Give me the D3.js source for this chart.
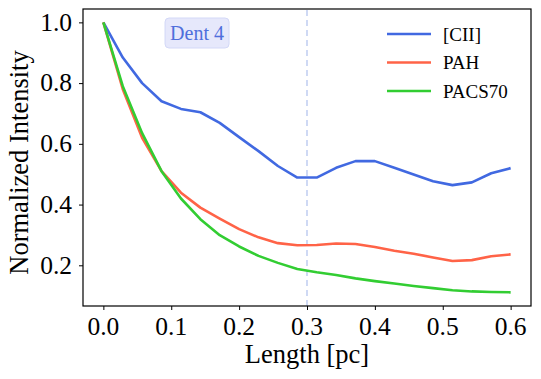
<!DOCTYPE html>
<html>
<head>
<meta charset="utf-8">
<script src="https://cdn.jsdelivr.net/npm/d3@7"></script>
<style>
  body { margin: 0; background: #fff; }
</style>
</head>
<body>
<div id="chart"></div>
<script>
// values
var lengths = [0, 0.0286, 0.0571, 0.0857, 0.1143, 0.1429, 0.1714, 0.2, 0.2286, 0.2571, 0.2857,
               0.3143, 0.3429, 0.3714, 0.4, 0.4286, 0.4571, 0.4857, 0.5143, 0.5429, 0.5714, 0.6];
var cii    = [1.0, 0.884, 0.80, 0.74, 0.715, 0.704, 0.669, 0.622, 0.576, 0.527, 0.489,
              0.489, 0.521, 0.543, 0.543, 0.521, 0.499, 0.477, 0.464, 0.473, 0.503, 0.52];
var pah    = [1.0, 0.78, 0.62, 0.51, 0.439, 0.39, 0.354, 0.319, 0.292, 0.273, 0.266,
              0.267, 0.272, 0.27, 0.26, 0.248, 0.238, 0.226, 0.214, 0.217, 0.23, 0.236];
var pacs70 = [1.0, 0.79, 0.635, 0.51, 0.42, 0.352, 0.299, 0.262, 0.231, 0.208, 0.188,
              0.177, 0.168, 0.157, 0.148, 0.140, 0.132, 0.125, 0.118, 0.114, 0.112, 0.111];
var seriesNames = ["[CII]", "PAH", "PACS70"];
var xTicks = [0, 0.1, 0.2, 0.3, 0.4, 0.5, 0.6];
var yTicks = [0.2, 0.4, 0.6, 0.8, 1.0];
var dentLength = 0.3;
var dentLabel = "Dent 4";

var width = 541, height = 379;
var margin = {left: 83, right: 10, top: 9, bottom: 73};
var serif = "Liberation Serif, Times New Roman, serif";

var svg = d3.select("#chart").append("svg")
  .attr("width", width)
  .attr("height", height)
  .attr("font-family", serif);

var x = d3.scaleLinear().domain([-0.03, 0.63]).range([margin.left, width - margin.right]);
var y = d3.scaleLinear().domain([0.066, 1.044]).range([height - margin.bottom, margin.top]);

var series = [
  {name: seriesNames[0], values: cii, color: "#4169e1"},
  {name: seriesNames[1], values: pah, color: "#ff6347"},
  {name: seriesNames[2], values: pacs70, color: "#32cd32"}
];

function bigText(parent, px, py, str, size, anchor, rot) {
  var g = parent.append("g")
    .attr("transform", "translate(" + px + "," + py + ")" + (rot ? " rotate(" + rot + ")" : ""));
  return g.append("text")
    .attr("font-size", size)
    .attr("text-anchor", anchor || "start")
    .attr("fill", "#000")
    .text(str);
}

// dashed marker
svg.append("line")
  .attr("x1", x(dentLength)).attr("x2", x(dentLength))
  .attr("y1", y.range()[0]).attr("y2", y.range()[1])
  .attr("stroke", "#c3d0f2")
  .attr("stroke-width", 1.6)
  .attr("stroke-dasharray", "6,4");

var line = d3.line()
  .x(function(d, i) { return x(lengths[i]); })
  .y(function(d) { return y(d); });

svg.append("g").selectAll("path")
  .data(series)
  .enter().append("path")
  .attr("d", function(d) { return line(d.values); })
  .attr("fill", "none")
  .attr("stroke", function(d) { return d.color; })
  .attr("stroke-width", 2.6)
  .attr("stroke-linejoin", "round");

// axes: ticks from d3, labels placed next to them
var xAxis = svg.append("g")
  .attr("transform", "translate(0," + y.range()[0] + ")")
  .call(d3.axisBottom(x).tickValues(xTicks).tickFormat("").tickSize(4));
var yAxis = svg.append("g")
  .attr("transform", "translate(" + margin.left + ",0)")
  .call(d3.axisLeft(y).tickValues(yTicks).tickFormat("").tickSize(4));

[xAxis, yAxis].forEach(function(a) {
  a.select(".domain").remove();
  a.selectAll("line").attr("stroke", "#000").attr("stroke-width", 1);
});

var fmt = d3.format(".1f");
xTicks.forEach(function(t) {
  bigText(svg, x(t), 335, fmt(t), 25.5, "middle");
});
yTicks.forEach(function(t) {
  bigText(svg, 72, y(t) + 8.3, fmt(t), 25.5, "end");
});

// frame
svg.append("rect")
  .attr("x", x.range()[0]).attr("y", y.range()[1])
  .attr("width", x.range()[1] - x.range()[0])
  .attr("height", y.range()[0] - y.range()[1])
  .attr("fill", "none")
  .attr("stroke", "#000")
  .attr("stroke-width", 1.2);

// axis labels
bigText(svg, (x.range()[0] + x.range()[1]) / 2, 363, "Length [pc]", 26.5, "middle");
bigText(svg, 28, 162.5, "Normalized Intensity", 26.5, "middle", -90);

// dent annotation
var ann = svg.append("g").attr("transform", "translate(" + x(0.138) + ",33)");
ann.append("rect")
  .attr("x", -32).attr("y", -15)
  .attr("width", 64).attr("height", 30)
  .attr("rx", 4)
  .attr("fill", "#e6e8fb")
  .attr("stroke", "#d3d8f7")
  .attr("stroke-width", 1);
ann.append("text")
  .attr("text-anchor", "middle")
  .attr("dy", "0.35em")
  .attr("font-size", 20)
  .attr("fill", "#4f6fdc")
  .text(dentLabel);

// legend
var legend = svg.append("g").attr("transform", "translate(387,34)");
var item = legend.selectAll("g")
  .data(series)
  .enter().append("g")
  .attr("transform", function(d, i) { return "translate(0," + (i * 28.5) + ")"; });
item.append("line")
  .attr("x1", 0).attr("x2", 44)
  .attr("stroke", function(d) { return d.color; })
  .attr("stroke-width", 2.6);
item.append("text")
  .attr("x", 56)
  .attr("dy", "0.35em")
  .attr("font-size", 19)
  .text(function(d) { return d.name; });
</script>
</body>
</html>
